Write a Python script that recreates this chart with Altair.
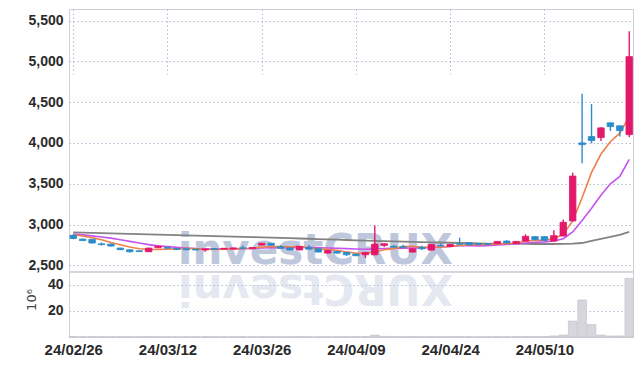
import altair as alt
import pandas as pd

# ---- data ----
opens = [2870, 2823, 2820, 2765, 2762, 2713, 2692, 2680, 2668, 2717,
         2722, 2708, 2705, 2700, 2690, 2705, 2700, 2702, 2715, 2705,
         2750, 2772, 2730, 2715, 2690, 2720, 2705, 2652, 2672, 2660,
         2639, 2631, 2631, 2746, 2735, 2730, 2664, 2720, 2688, 2745,
         2733, 2765, 2779, 2770, 2766, 2766, 2799, 2770, 2799, 2853,
         2853, 2799, 2861, 3045, 4001, 4079, 4066, 4247, 4210, 4103]
closes = [2830, 2805, 2775, 2755, 2738, 2693, 2668, 2670, 2713, 2737,
          2712, 2695, 2692, 2690, 2702, 2698, 2710, 2715, 2710, 2720,
          2772, 2748, 2710, 2690, 2735, 2700, 2665, 2684, 2652, 2631,
          2619, 2660, 2762, 2766, 2725, 2722, 2705, 2705, 2758, 2740,
          2758, 2760, 2754, 2758, 2758, 2795, 2775, 2795, 2857, 2816,
          2808, 2865, 3029, 3595, 3980, 4030, 4185, 4201, 4152, 5058]
highs = [2880, 2830, 2822, 2780, 2765, 2716, 2700, 2683, 2716, 2740,
         2726, 2712, 2708, 2703, 2708, 2708, 2713, 2718, 2745, 2723,
         2776, 2776, 2750, 2718, 2738, 2750, 2708, 2688, 2675, 2663,
         2642, 2664, 2991, 2770, 2750, 2755, 2708, 2740, 2762, 2770,
         2762, 2840, 2783, 2773, 2769, 2798, 2808, 2798, 2882, 2857,
         2857, 2930, 3062, 3636, 4603, 4476, 4193, 4250, 4215, 5370]
lows = [2822, 2798, 2770, 2745, 2733, 2688, 2660, 2665, 2665, 2712,
        2708, 2690, 2688, 2685, 2668, 2694, 2697, 2699, 2706, 2702,
        2746, 2744, 2706, 2686, 2686, 2696, 2660, 2648, 2648, 2618,
        2615, 2592, 2625, 2725, 2721, 2718, 2660, 2690, 2684, 2736,
        2729, 2756, 2750, 2754, 2754, 2762, 2771, 2766, 2795, 2812,
        2804, 2795, 2857, 3040, 3751, 3997, 4025, 4148, 4078, 4070]
volumes = [0.3, 0.2, 0.3, 0.2, 0.2, 0.3, 0.2, 0.2, 0.3, 0.2,
           0.2, 0.2, 0.2, 0.2, 0.3, 0.2, 0.2, 0.2, 0.3, 0.2,
           0.3, 0.2, 0.2, 0.2, 0.3, 0.2, 0.2, 0.2, 0.2, 0.3,
           0.3, 0.4, 1.5, 0.5, 0.3, 0.3, 0.3, 0.2, 0.3, 0.2,
           0.3, 0.3, 0.2, 0.2, 0.2, 0.3, 0.2, 0.3, 0.4, 0.3,
           0.4, 0.8, 1.5, 12.2, 28.3, 9.6, 1.5, 0.8, 0.8, 44.8]
ma5 = [2877, 2860, 2840, 2815, 2781, 2753, 2726, 2705, 2696, 2696,
       2700, 2705, 2710, 2705, 2698, 2695, 2698, 2703, 2707, 2711,
       2725, 2733, 2731, 2728, 2731, 2717, 2700, 2695, 2687, 2666,
       2650, 2649, 2665, 2692, 2706, 2731, 2736, 2725, 2723, 2726,
       2733, 2744, 2754, 2754, 2758, 2765, 2768, 2776, 2796, 2808,
       2810, 2828, 2880, 3045, 3330, 3640, 3865, 4015, 4120, 4325]
ma10 = [2885, 2875, 2862, 2848, 2835, 2815, 2795, 2775, 2755, 2740,
        2733, 2722, 2714, 2707, 2703, 2700, 2700, 2702, 2705, 2707,
        2713, 2717, 2718, 2718, 2721, 2721, 2717, 2714, 2710, 2706,
        2701, 2698, 2703, 2708, 2710, 2712, 2714, 2716, 2720, 2726,
        2732, 2742, 2741, 2740, 2743, 2750, 2757, 2766, 2776, 2784,
        2789, 2800, 2828, 2910, 3050, 3200, 3360, 3500, 3590, 3800]
ma60 = [2905, 2902, 2899, 2896, 2893, 2890, 2887, 2884, 2881, 2878,
        2875, 2872, 2869, 2866, 2862, 2859, 2856, 2853, 2850, 2847,
        2843, 2840, 2837, 2834, 2830, 2827, 2823, 2820, 2816, 2812,
        2808, 2805, 2802, 2799, 2796, 2793, 2790, 2787, 2784, 2781,
        2778, 2775, 2772, 2770, 2768, 2766, 2765, 2764, 2764, 2763,
        2763, 2763, 2764, 2767, 2775, 2800, 2826, 2851, 2876, 2912]
tick_index = [0, 10, 20, 30, 40, 50]
tick_labels = ["24/02/26", "24/03/12", "24/03/26", "24/04/09", "24/04/24", "24/05/10"]
price_ticks = [2500, 3000, 3500, 4000, 4500, 5000, 5500]
volume_ticks = [20, 40]

df = pd.DataFrame({
    "idx": list(range(len(opens))),
    "open": opens, "close": closes, "high": highs, "low": lows,
    "vol": volumes, "ma5": ma5, "ma10": ma10, "ma60": ma60,
})
df["dir"] = ["up" if c > o else "down" for o, c in zip(opens, closes)]

RED = "#e3186b"
BLUE = "#2a8cc9"
FONT = "Liberation Sans Narrow, Liberation Sans, sans-serif"

label_expr = "[" + ",".join("'%s'" % t for t in tick_labels) + "][round(datum.value/10)]"

x_scale = alt.Scale(domain=[-0.45, 59.4], nice=False, zero=False, padding=0)
x_axis = alt.X("idx:Q", scale=x_scale,
               axis=alt.Axis(values=tick_index, labelExpr=label_expr, title=None,
                             grid=True, labelFontSize=15, labelPadding=5,
                             labelFlush=False))
x_plain = alt.X("idx:Q", scale=x_scale)

price_scale = alt.Scale(domain=[2420, 5641], range=[263, 0], nice=False, zero=False, padding=0)
color_scale = alt.Scale(domain=["up", "down"], range=[RED, BLUE])

base = alt.Chart(df)

wm = alt.Chart(pd.DataFrame({"t": ["investCRUX"]})).mark_text(
    font="DejaVu Sans", fontWeight="bold", fontSize=42, align="left",
    baseline="alphabetic", color="#bcc5db", opacity=0.95
).encode(x=alt.value(109), y=alt.value(255), text="t:N")

wm_ref = alt.Chart(pd.DataFrame({"t": ["XURCtsevni"]})).mark_text(
    font="DejaVu Sans", fontWeight="bold", fontSize=42, align="left",
    baseline="alphabetic", color="#c6cde0", opacity=0.45, angle=180
).encode(x=alt.value(384), y=alt.value(266), text="t:N")

gray = base.mark_line(color="#838383", strokeWidth=1.8).encode(
    x=x_plain,
    y=alt.Y("ma60:Q", scale=price_scale,
            axis=alt.Axis(values=price_ticks, format=",d", title=None, grid=True,
                          orient="left", labelFontSize=14, labelPadding=6)))
purple = base.mark_line(color="#c653ee", strokeWidth=1.6).encode(
    x=x_plain, y=alt.Y("ma10:Q"))
orange = base.mark_line(color="#ef8049", strokeWidth=1.6).encode(
    x=x_plain, y=alt.Y("ma5:Q"))
wick = base.mark_rule(strokeWidth=1.4).encode(
    x=x_plain, y=alt.Y("low:Q"), y2="high:Q",
    color=alt.Color("dir:N", scale=color_scale, legend=None))
body = base.mark_bar(size=6.5, strokeWidth=0.8).encode(
    x=x_plain, y=alt.Y("open:Q"), y2="close:Q",
    color=alt.Color("dir:N", scale=color_scale, legend=None),
    stroke=alt.Color("dir:N", scale=color_scale, legend=None))

price = alt.layer(gray, purple, orange, wick, body)

vol = base.mark_bar(size=8.6, color="#d6d6dc", stroke="#bdbdc6", strokeWidth=0.6).encode(
    x=x_axis,
    y=alt.Y("vol:Q", scale=alt.Scale(domain=[0, 49.7], range=[328, 263], nice=False, padding=0),
            axis=alt.Axis(values=volume_ticks, format="d", title=None, grid=True,
                          orient="left", labelFontSize=14, labelPadding=6)))

sep = alt.Chart(pd.DataFrame({"v": [0]})).mark_rule(color="#c9c9d1", strokeWidth=1.5).encode(
    y=alt.value(263))

unit = alt.Chart(pd.DataFrame({"t": ["10⁶"]})).mark_text(
    font="DejaVu Sans", fontSize=13, angle=270, color="#444444",
    align="center", baseline="middle"
).encode(x=alt.value(-37), y=alt.value(291), text="t:N")

chart = alt.layer(wm, wm_ref, vol, sep, price, unit).resolve_scale(
    y="independent", color="shared"
).properties(
    width=564, height=328,
    autosize=alt.AutoSizeParams(type="none"),
    padding={"left": 69, "top": 9, "right": 10, "bottom": 29},
    background="white",
).configure_view(
    stroke="#cdd0d8", strokeWidth=1
).configure_axis(
    domain=False, ticks=False,
    gridColor="#b3bbd3", gridDash=[1.5, 2.5], gridWidth=1,
    labelFont=FONT, labelFontWeight="bold", labelColor="#2a2a2a",
)

chart.save("out.html", embed_options={"renderer": "svg", "actions": False})
